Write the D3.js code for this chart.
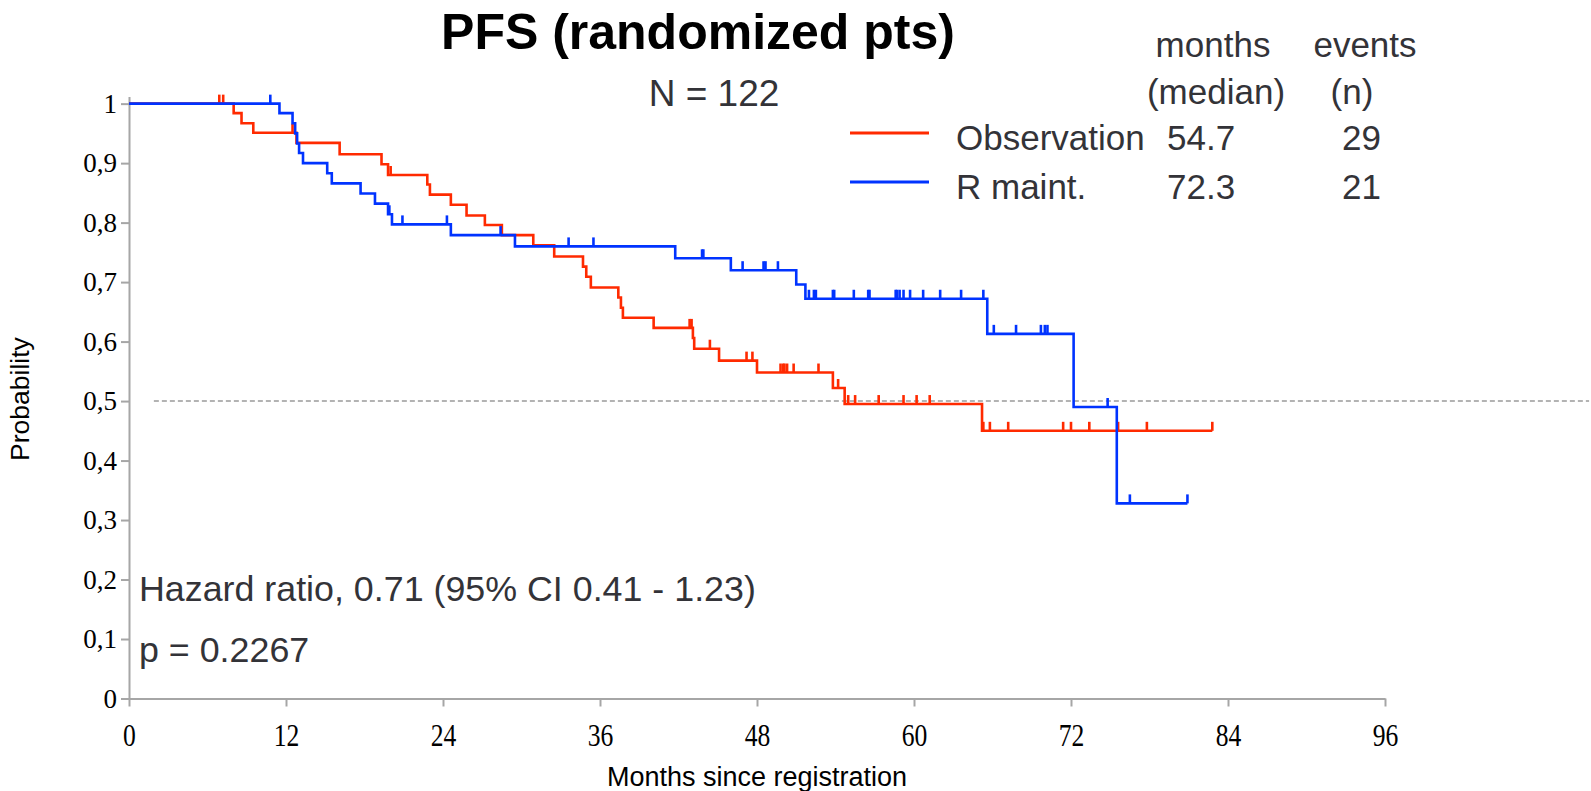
<!DOCTYPE html>
<html>
<head>
<meta charset="utf-8">
<script src="https://cdn.jsdelivr.net/npm/d3@7"></script>
<style>
  html, body { margin: 0; padding: 0; background: #fff; }
  svg { display: block; }
  .sans { font-family: "Liberation Sans", Arial, sans-serif; }
  .serif { font-family: "Liberation Serif", "Times New Roman", serif; }
</style>
</head>
<body>
<svg id="chart" width="1591" height="791"></svg>
<script>
// Kaplan-Meier PFS, randomized patients
// Observation arm: event times (months) and survival after each event
const obsEventTimes = [8.0, 8.6, 9.5, 12.8, 16.1, 19.3, 19.8, 22.8, 23.0, 24.6,
  25.8, 27.2, 28.5, 30.9, 32.5, 34.7, 34.95, 35.3, 37.4, 37.6,
  37.75, 40.1, 43.1, 43.2, 45.1, 48.0, 53.8, 54.7, 65.2];
const obsSurvival = [0.984, 0.967, 0.951, 0.934, 0.915, 0.898, 0.880, 0.864, 0.847, 0.830,
  0.812, 0.796, 0.779, 0.762, 0.743, 0.726, 0.709, 0.691, 0.674, 0.657,
  0.640, 0.623, 0.606, 0.588, 0.568, 0.548, 0.522, 0.495, 0.450];
const obsCensored = [6.9, 7.2, 12.5, 20.0, 42.85, 43.0, 44.4, 47.2, 47.65, 49.8, 50.0, 50.1,
  50.3, 50.8, 52.7, 54.2, 54.97, 55.5, 57.3, 59.2, 60.2, 61.2, 65.3, 65.8, 67.2,
  71.4, 72.0, 73.4, 75.6, 77.8, 82.8];

// R maintenance arm
const rmEventTimes = [11.5, 12.5, 12.7, 12.85, 13.0, 13.3, 15.15, 15.5, 17.7, 18.8,
  19.8, 20.1, 24.6, 29.5, 41.75, 46.0, 51.0, 51.7, 65.6, 72.2, 75.5];
const rmSurvival = [0.984, 0.967, 0.950, 0.933, 0.917, 0.900, 0.883, 0.866, 0.849, 0.832,
  0.814, 0.797, 0.779, 0.760, 0.740, 0.720, 0.696, 0.672, 0.613, 0.490, 0.328];
const rmCensored = [10.8, 19.9, 20.9, 24.3, 28.4, 33.6, 35.5, 43.8, 43.9, 46.9, 48.5, 48.65,
  49.6, 51.97, 52.35, 52.5, 53.8, 53.9, 55.4, 56.5, 56.6, 58.6, 58.7, 58.9, 59.2,
  59.7, 60.7, 62.0, 63.6, 65.3, 66.1, 67.8, 69.7, 70.0, 70.2, 74.8, 76.5, 80.9];

// Axis ticks
const monthTicks = [0, 12, 24, 36, 48, 60, 72, 84, 96];
const probTicks = [0, 0.1, 0.2, 0.3, 0.4, 0.5, 0.6, 0.7, 0.8, 0.9, 1];

// Legend table
const armNames = ["Observation", "R maint."];
const armMedians = ["54.7", "72.3"];
const armEvents = ["29", "21"];
const armColors = ["#ff2a00", "#0033ff"];

// Median reference line (months span, probability level)
const medianLineSpan = [1.9, 111.6];
const medianLevel = 0.5;

const svg = d3.select("#chart");
const x = d3.scaleLinear().domain([0, 96]).range([129, 1385]);
const y = d3.scaleLinear().domain([0, 1.012]).range([698.5, 96.5]);

const axisColor = "#a6a6a6";

// Y axis
const yAxis = svg.append("g")
  .attr("transform", `translate(${x(0)},0)`)
  .call(d3.axisLeft(y).tickValues(probTicks).tickSize(8).tickSizeOuter(0)
    .tickFormat(d => d === 0 || d === 1 ? String(d) : d3.format(".1f")(d).replace(".", ",")));
yAxis.select(".domain").attr("stroke", axisColor).attr("stroke-width", 2);
yAxis.selectAll(".tick line").attr("stroke", axisColor).attr("stroke-width", 2);
yAxis.selectAll(".tick text").attr("class", "serif").attr("font-size", 27)
  .attr("fill", "#000").attr("x", -12);

// X axis
const xAxis = svg.append("g")
  .attr("transform", `translate(0,${y(0)})`)
  .call(d3.axisBottom(x).tickValues(monthTicks).tickSize(8).tickSizeOuter(0));
xAxis.select(".domain").attr("stroke", axisColor).attr("stroke-width", 2);
xAxis.selectAll(".tick line").attr("stroke", axisColor).attr("stroke-width", 2);
xAxis.selectAll(".tick text").attr("class", "serif").attr("font-size", 32)
  .attr("fill", "#000").attr("y", 0).attr("dy", 0)
  .attr("transform", "translate(0,47) scale(0.8,1)");

// Median reference line
svg.append("line")
  .attr("x1", x(medianLineSpan[0])).attr("x2", x(medianLineSpan[1]))
  .attr("y1", y(medianLevel)).attr("y2", y(medianLevel))
  .attr("stroke", "#9a9a9a").attr("stroke-width", 1.5)
  .attr("stroke-dasharray", "5,3");

// Kaplan-Meier curves
function survivalAt(times, surv, t) {
  let s = 1;
  for (let i = 0; i < times.length; i++) if (times[i] <= t) s = surv[i];
  return s;
}

function drawArm(times, surv, censored, color) {
  const end = Math.max(d3.max(censored), d3.max(times));
  const pts = [[0, 1]].concat(times.map((t, i) => [t, surv[i]]));
  pts.push([end, surv[surv.length - 1]]);
  const line = d3.line().x(d => x(d[0])).y(d => y(d[1])).curve(d3.curveStepAfter);
  svg.append("path").datum(pts).attr("d", line)
    .attr("fill", "none").attr("stroke", color).attr("stroke-width", 2.6)
    .attr("stroke-linejoin", "miter");
  svg.append("g").selectAll("line").data(censored).join("line")
    .attr("x1", d => x(d)).attr("x2", d => x(d))
    .attr("y1", d => y(survivalAt(times, surv, d)))
    .attr("y2", d => y(survivalAt(times, surv, d)) - 9)
    .attr("stroke", color).attr("stroke-width", 2.6);
}

drawArm(obsEventTimes, obsSurvival, obsCensored, armColors[0]);
drawArm(rmEventTimes, rmSurvival, rmCensored, armColors[1]);

// Titles
const textColor = "#333338";
svg.append("text").attr("class", "sans").attr("x", 698).attr("y", 49)
  .attr("text-anchor", "middle").attr("font-size", 50).attr("font-weight", "bold")
  .attr("fill", "#000").text("PFS (randomized pts)");
svg.append("text").attr("class", "sans").attr("x", 714).attr("y", 106)
  .attr("text-anchor", "middle").attr("font-size", 37)
  .attr("fill", textColor).text("N = 122");

// Legend header
const header = [
  { t: "months", x: 1213, y: 57 },
  { t: "(median)", x: 1216, y: 104 },
  { t: "events", x: 1365, y: 57 },
  { t: "(n)", x: 1352, y: 104 }
];
svg.append("g").selectAll("text").data(header).join("text")
  .attr("class", "sans").attr("x", d => d.x).attr("y", d => d.y)
  .attr("text-anchor", "middle").attr("font-size", 35).attr("fill", textColor)
  .text(d => d.t);

// Legend rows
const rowY = [150, 199];
const legend = svg.append("g");
armNames.forEach((name, i) => {
  legend.append("line").attr("x1", 850).attr("x2", 929)
    .attr("y1", rowY[i] - 17).attr("y2", rowY[i] - 17)
    .attr("stroke", armColors[i]).attr("stroke-width", 3);
  legend.append("text").attr("class", "sans").attr("x", 956).attr("y", rowY[i])
    .attr("font-size", 35).attr("fill", textColor).text(name);
  legend.append("text").attr("class", "sans").attr("x", 1167).attr("y", rowY[i])
    .attr("font-size", 35).attr("fill", textColor).text(armMedians[i]);
  legend.append("text").attr("class", "sans").attr("x", 1342).attr("y", rowY[i])
    .attr("font-size", 35).attr("fill", textColor).text(armEvents[i]);
});

// Statistics
svg.append("text").attr("class", "sans").attr("x", 139).attr("y", 601)
  .attr("font-size", 35.8).attr("fill", textColor)
  .text("Hazard ratio, 0.71 (95% CI 0.41 - 1.23)");
svg.append("text").attr("class", "sans").attr("x", 139).attr("y", 662)
  .attr("font-size", 35.8).attr("fill", textColor).text("p = 0.2267");

// Axis titles
svg.append("text").attr("class", "sans")
  .attr("transform", `translate(29,${(y(0) + y(1)) / 2 - 2}) rotate(-90)`)
  .attr("text-anchor", "middle").attr("font-size", 26.5).attr("fill", "#000")
  .text("Probability");
svg.append("text").attr("class", "sans").attr("x", (x(0) + x(96)) / 2).attr("y", 786)
  .attr("text-anchor", "middle").attr("font-size", 27).attr("fill", "#000")
  .text("Months since registration");
</script>
</body>
</html>
